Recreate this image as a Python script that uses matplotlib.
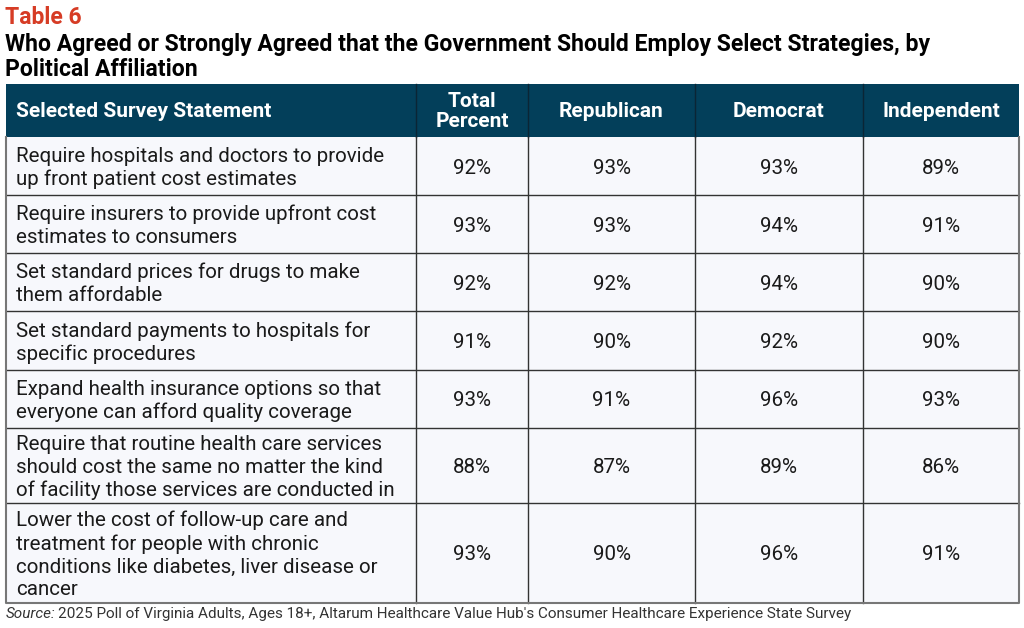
import matplotlib.pyplot as plt
from matplotlib.patches import Rectangle

plt.rcParams['font.family'] = ['Roboto', 'DejaVu Sans']

# Data
columns = ["Selected Survey Statement", "Total\nPercent", "Republican", "Democrat", "Independent"]
statements = [
    "Require hospitals and doctors to provide\nup front patient cost estimates",
    "Require insurers to provide upfront cost\nestimates to consumers",
    "Set standard prices for drugs to make\nthem affordable",
    "Set standard payments to hospitals for\nspecific procedures",
    "Expand health insurance options so that\neveryone can afford quality coverage",
    "Require that routine health care services\nshould cost the same no matter the kind\nof facility those services are conducted in",
    "Lower the cost of follow-up care and\ntreatment for people with chronic\nconditions like diabetes, liver disease or\ncancer",
]
total_pct = [92, 93, 92, 91, 93, 88, 93]
republican = [93, 93, 92, 90, 91, 87, 90]
democrat = [93, 94, 94, 92, 96, 89, 96]
independent = [89, 91, 90, 90, 93, 86, 91]

# Layout (pixels)
col_edges = [6, 416, 528, 695, 863, 1019]
header_top, header_bot = 84, 137
row_edges = [137, 195, 253, 311, 370, 428, 503, 603]

HEADER_BG = "#033f5a"
CELL_BG = "#f7f8fc"

fig = plt.figure(figsize=(10.24, 6.28), dpi=100)
ax = fig.add_axes([0, 0, 1, 1])
ax.set_xlim(0, 1024)
ax.set_ylim(628, 0)
ax.axis("off")

# Titles
ax.text(5, 17, "Table 6", color="#d63c25", fontsize=16.5, fontweight="bold", va="center")
ax.text(5, 45, "Who Agreed or Strongly Agreed that the Government Should Employ Select Strategies, by",
        color="black", fontsize=16.6, fontweight="bold", va="center")
ax.text(5, 70, "Political Affiliation", color="black", fontsize=16.6, fontweight="bold", va="center")

# Header
ax.add_patch(Rectangle((col_edges[0], header_top), col_edges[-1] - col_edges[0],
                       header_bot - header_top, facecolor=HEADER_BG, edgecolor="none"))
for i, name in enumerate(columns):
    y = (header_top + header_bot) / 2 + 1
    if i == 0:
        ax.text(col_edges[0] + 10, y, name, color="white", fontsize=15,
                fontweight="bold", va="center", ha="left")
    else:
        x = (col_edges[i] + col_edges[i + 1]) / 2
        ax.text(x, y, name, color="white", fontsize=15, fontweight="bold",
                va="center", ha="center", linespacing=1.1)
for xe in col_edges[1:-1]:
    ax.plot([xe, xe], [header_top, header_bot], color="#0b2535", lw=1)

# Body
ax.add_patch(Rectangle((col_edges[0], row_edges[0]), col_edges[-1] - col_edges[0],
                       row_edges[-1] - row_edges[0], facecolor=CELL_BG, edgecolor="none"))
for r, stmt in enumerate(statements):
    y0, y1 = row_edges[r], row_edges[r + 1]
    yc = (y0 + y1) / 2
    ax.text(col_edges[0] + 10, yc + 2, stmt, fontsize=14.8, va="center", ha="left",
            color="#1a1a1a", linespacing=1.25)
    vals = [total_pct[r], republican[r], democrat[r], independent[r]]
    for c, v in enumerate(vals):
        x = (col_edges[c + 1] + col_edges[c + 2]) / 2
        ax.text(x, yc + 2, f"{v}%", fontsize=14.8, va="center", ha="center", color="#1a1a1a")

for ye in row_edges[1:-1]:
    ax.plot([col_edges[0], col_edges[-1]], [ye, ye], color="#333333", lw=1)
for xe in col_edges[1:-1]:
    ax.plot([xe, xe], [row_edges[0], row_edges[-1]], color="#333333", lw=1)
ax.plot([col_edges[0], col_edges[0], col_edges[-1], col_edges[-1]],
        [row_edges[0], row_edges[-1], row_edges[-1], row_edges[0]], color="#777777", lw=1.5)

# Source
ax.text(6, 614, "Source:", fontsize=11, style="italic", va="center", color="#333333")
ax.text(58, 614, "2025 Poll of Virginia Adults, Ages 18+, Altarum Healthcare Value Hub's Consumer "
        "Healthcare Experience State Survey", fontsize=11, va="center", color="#333333")

fig.savefig("out.png", dpi=100)
plt.close()
